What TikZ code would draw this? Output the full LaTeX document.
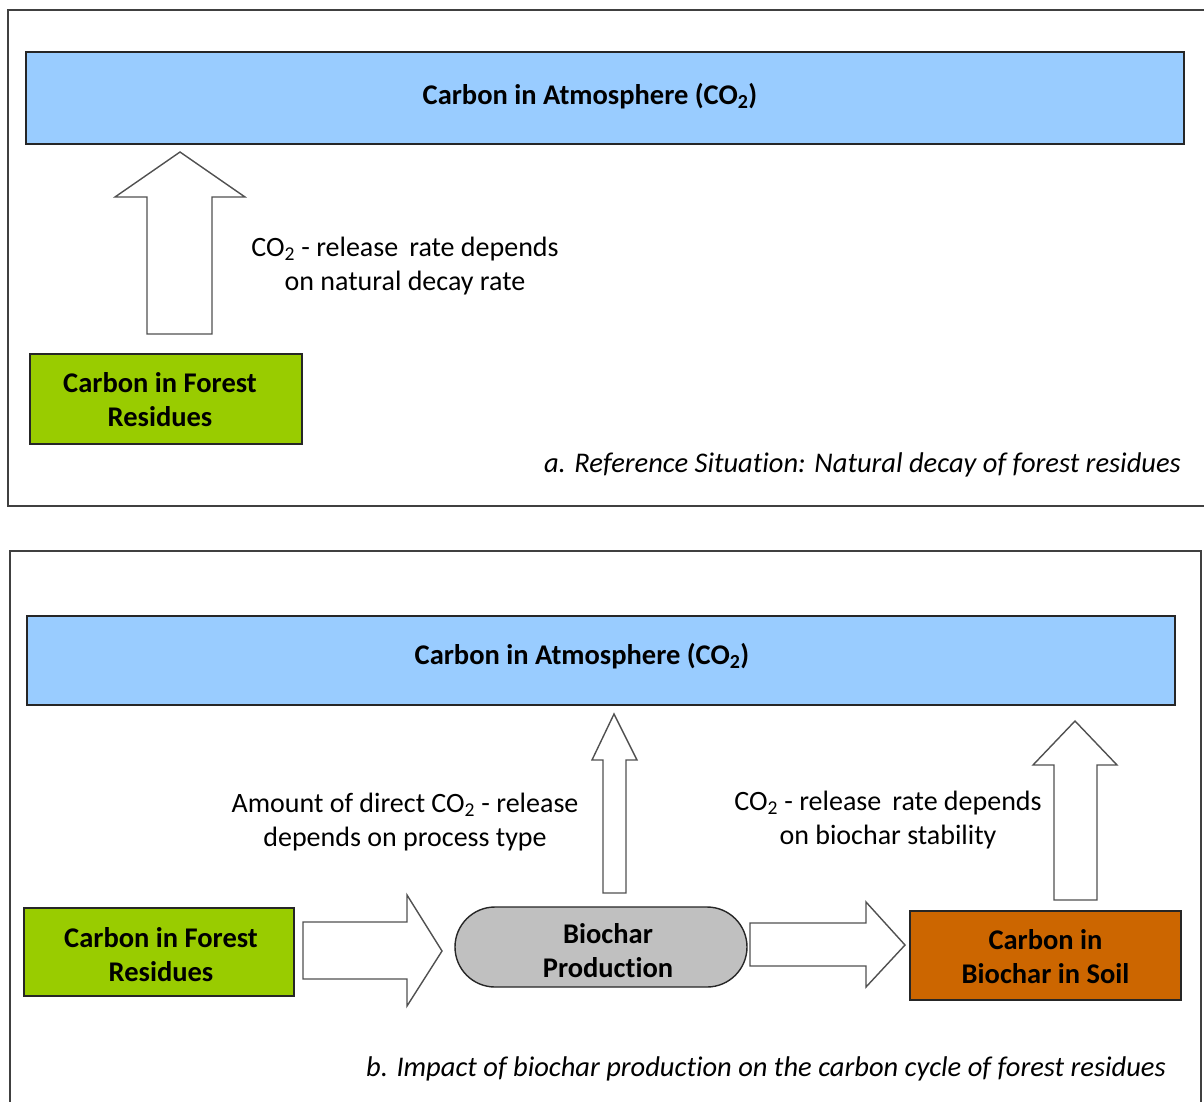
\documentclass[tikz,border=0pt]{standalone}
\usepackage{fontspec}
\setmainfont[Ligatures={NoCommon,NoDiscretionary}]{Carlito}
\usetikzlibrary{shapes.misc}
\definecolor{atmo}{HTML}{99CCFF}
\definecolor{forest}{HTML}{99CC00}
\definecolor{soil}{HTML}{CC6600}
\definecolor{bioc}{HTML}{C0C0C0}
\definecolor{frameclr}{HTML}{404040}
\definecolor{arrclr}{HTML}{505050}
\tikzset{
  panel/.style={draw=frameclr, line width=1.5pt},
  box/.style={draw=black!85, line width=1.4pt, inner sep=0pt},
  boxtext/.style={align=center, inner sep=0pt,
              font=\fontsize{28.5}{34}\selectfont\bfseries},
  blockarrow/.style={draw=arrclr, line width=1.4pt, fill=white, line join=miter},
  note/.style={align=center, font=\fontsize{28}{34}\selectfont, inner sep=0pt},
  caption/.style={anchor=east, font=\fontsize{28.5}{30}\selectfont\itshape, inner sep=0pt}
}
\begin{document}
\begin{tikzpicture}[x=1pt,y=-1pt]
\clip (0,0) rectangle (1204,1101);
\fill[white] (0,0) rectangle (1204,1101);
% panels
\draw[panel] (8,10) rectangle (1230,506);
\draw[panel] (10,551) rectangle (1201,1130);

% ---------- panel a ----------
\node[box, fill=atmo, minimum width=1158pt, minimum height=92pt] (atmA) at (605,98) {};
\node[boxtext] (atmAtxt) at (590,96) {Carbon in Atmosphere (CO\textsubscript{2})};
\node[box, fill=forest, minimum width=272pt, minimum height=90pt] (forA) at (166,399) {};
\node[boxtext] (forAtxt) at (160,400) {Carbon in Forest\\Residues};
\draw[blockarrow] (147,334) -- (147,197) -- (115,197) -- (180,152) -- (245,197)
  -- (212,197) -- (212,334) -- cycle;
\node[note] (noteA) at (405,266) {CO\textsubscript{2} - release\, rate depends\\on natural decay rate};
\node[caption] (capA) at (1181,465) {a. Reference Situation: Natural decay of forest residues};

% ---------- panel b ----------
\node[box, fill=atmo, minimum width=1148pt, minimum height=89pt] (atmB) at (601,660.5) {};
\node[boxtext] (atmBtxt) at (582,656) {Carbon in Atmosphere (CO\textsubscript{2})};
\node[box, fill=forest, minimum width=270pt, minimum height=88pt] (forB) at (159,952) {};
\node[boxtext] (forBtxt) at (161,955) {Carbon in Forest\\Residues};
\node[box, fill=bioc, rounded rectangle, minimum width=292pt, minimum height=80pt] (bio) at (601,947) {};
\node[boxtext] (biotxt) at (608,951) {Biochar\\Production};
\node[box, fill=soil, minimum width=271pt, minimum height=89pt] (soil) at (1045.5,955.5) {};
\node[boxtext] (soiltxt) at (1045.5,957) {Carbon in\\Biochar in Soil};

% arrows
\draw[blockarrow] (303,922) -- (407,922) -- (407,895) -- (442,951) -- (407,1006)
  -- (407,979) -- (303,979) -- cycle;
\draw[blockarrow] (750,923) -- (866,923) -- (866,902) -- (905,945) -- (866,987)
  -- (866,966) -- (750,966) -- cycle;
\draw[blockarrow] (603,893) -- (603,760) -- (592,760) -- (614,714) -- (637,760)
  -- (626,760) -- (626,893) -- cycle;
\draw[blockarrow] (1054,900) -- (1054,765) -- (1033,765) -- (1075,721) -- (1117,765)
  -- (1097,765) -- (1097,900) -- cycle;

\node[note] (noteB1) at (405,822) {Amount of direct CO\textsubscript{2} - release\\depends on process type};
\node[note] (noteB2) at (888,820) {CO\textsubscript{2} - release\, rate depends\\on biochar stability};
\node[caption] (capB) at (1166,1069) {b. Impact of biochar production on the carbon cycle of forest residues};
\end{tikzpicture}
\end{document}
